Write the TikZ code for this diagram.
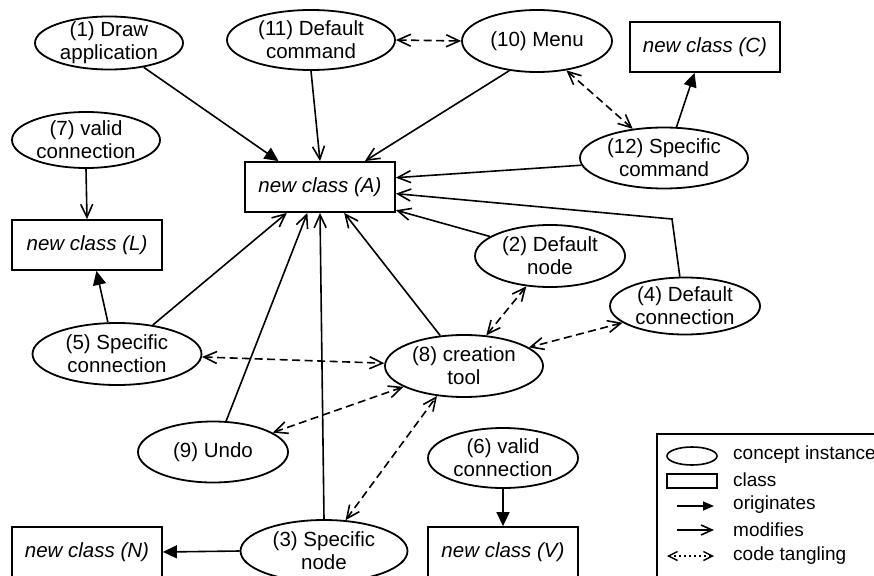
\documentclass[tikz,border=0pt]{standalone}
\usepackage{fontspec}
\setmainfont{Liberation Sans}
\usetikzlibrary{shapes.geometric,arrows.meta,positioning,calc}
\tikzset{
  concept style/.style={ellipse, draw, line width=1.8pt, minimum width=150pt, minimum height=60pt,
    inner xsep=0pt, inner ysep=-8pt, align=center, font=\fontsize{20.5}{23}\selectfont},
  class style/.style={rectangle, draw, line width=1.8pt, minimum width=150pt, minimum height=50pt,
    inner sep=0pt, font=\fontsize{20.5}{23}\selectfont\itshape},
  orig style/.style={-{Triangle[length=14pt,width=13pt]}, line width=1.6pt},
  mod style/.style={-{Straight Barb[length=13pt,width=12pt]}, line width=1.6pt},
  tangle style/.style={{Straight Barb[length=13pt,width=12pt]}-{Straight Barb[length=13pt,width=12pt]},
    line width=1.6pt, dash pattern=on 8pt off 4.5pt},
  lbl style/.style={anchor=west, inner sep=0pt, font=\fontsize{19}{23}\selectfont}
}
\begin{document}
\begin{tikzpicture}[x=1pt, y=-1pt]

\useasboundingbox (0,0) rectangle (874,575);
\clip (0,0) rectangle (874,575);
\fill[white] (0,0) rectangle (874,575);

% concept instances
\node[concept style, minimum width=148pt, minimum height=53pt] (e1) at (109,43) {(1) Draw\\application};
\node[concept style, minimum width=168pt] (e11) at (311,40) {(11) Default\\command};
\node[concept style, minimum height=62pt] (e10) at (537,41) {(10) Menu};
\node[concept style, minimum width=168pt, minimum height=61pt] (e12) at (664,158) {(12) Specific\\command};
\node[concept style, minimum width=148pt, minimum height=56pt] (e7) at (86,140) {(7) valid\\connection};
\node[concept style, minimum height=62pt] (e2) at (550,256) {(2) Default\\node};
\node[concept style, minimum height=57pt] (e4) at (685,306) {(4) Default\\connection};
\node[concept style, minimum width=169pt, minimum height=62pt] (e5) at (117,354) {(5) Specific\\connection};
\node[concept style, minimum width=158pt, minimum height=62pt] (e8) at (464,366) {(8) creation\\tool};
\node[concept style, minimum height=61pt] (e9) at (213,452) {(9) Undo};
\node[concept style] (e6) at (503,458) {(6) valid\\connection};
\node[concept style, minimum width=167pt, minimum height=62pt] (e3) at (324,551) {(3) Specific\\node};

% classes
\node[class style] (kA) at (320,187) {new class (A)};
\node[class style] (kC) at (705,47) {new class (C)};
\node[class style] (kL) at (87,245) {new class (L)};
\node[class style] (kN) at (87,552) {new class (N)};
\node[class style] (kV) at (503,552) {new class (V)};

% originates
\draw[orig style] (e1.-35) -- (kA.148);
\draw[orig style] (e5.106) -- (kL.-70);
\draw[orig style] (e12.68) -- (kC.-112);
\draw[orig style] (e3.west) -- (kN.east);
\draw[orig style] (e6.south) -- (kV.north);

% modifies
\coordinate (b4) at (672,219);
\draw[mod style] (e11.south) -- (kA.north);
\draw[mod style] (e10.-133) -- (kA.30);
\draw[mod style] (e12.-175) -- (kA.7);
\draw[mod style] (e4.100) -- (b4) -- (kA.-5);
\draw[mod style] (e2.162) -- (kA.-17);
\draw[mod style] (e7.south) -- (kL.north);
\draw[mod style] (e5.39) -- (kA.-142);
\draw[mod style] (e9.67) -- (kA.-116);
\draw[mod style] (e3.north) -- (kA.south);
\draw[mod style] (e8.128) -- (kA.-47);

% code tangling
\draw[tangle style] (e11.east) -- (e10.west);
\draw[tangle style] (e10.-45) -- (e12.137);
\draw[tangle style] (e2.-128) -- (e8.54);
\draw[tangle style] (e4.-165) -- (e8.16);
\draw[tangle style] (e5.-2) -- (e8.178);
\draw[tangle style] (e9.18) -- (e8.-161);
\draw[tangle style] (e3.55) -- (e8.-132);

% legend
\draw[line width=1.8pt] (657,434) rectangle (900,600);
\node[ellipse, draw, line width=1.6pt, minimum width=50pt, minimum height=18pt, inner sep=0pt] (lgE) at (692,456) {};
\node[lbl style] (lgEt) at (733,455) {concept instance};
\node[rectangle, draw, line width=1.6pt, minimum width=50pt, minimum height=14pt, inner sep=0pt] (lgK) at (692,481) {};
\node[lbl style] (lgKt) at (733,480) {class};
\coordinate (lo1) at (677,506); \coordinate (lo2) at (714,506);
\draw[-{Triangle[length=11pt,width=9pt]}, line width=1.6pt] (lo1) -- (lo2);
\node[lbl style] (lgOt) at (733,505) {originates};
\coordinate (lm1) at (677,530); \coordinate (lm2) at (714,530);
\draw[-{Straight Barb[length=11pt,width=10pt]}, line width=1.6pt] (lm1) -- (lm2);
\node[lbl style] (lgMt) at (733,530) {modifies};
\coordinate (lt1) at (667,556); \coordinate (lt2) at (714,556);
\draw[{Straight Barb[length=9pt,width=9pt]}-{Straight Barb[length=9pt,width=9pt]}, line width=1.4pt,
  dash pattern=on 2pt off 3pt] (lt1) -- (lt2);
\node[lbl style] (lgTt) at (733,556) {code tangling};

\end{tikzpicture}
\end{document}
